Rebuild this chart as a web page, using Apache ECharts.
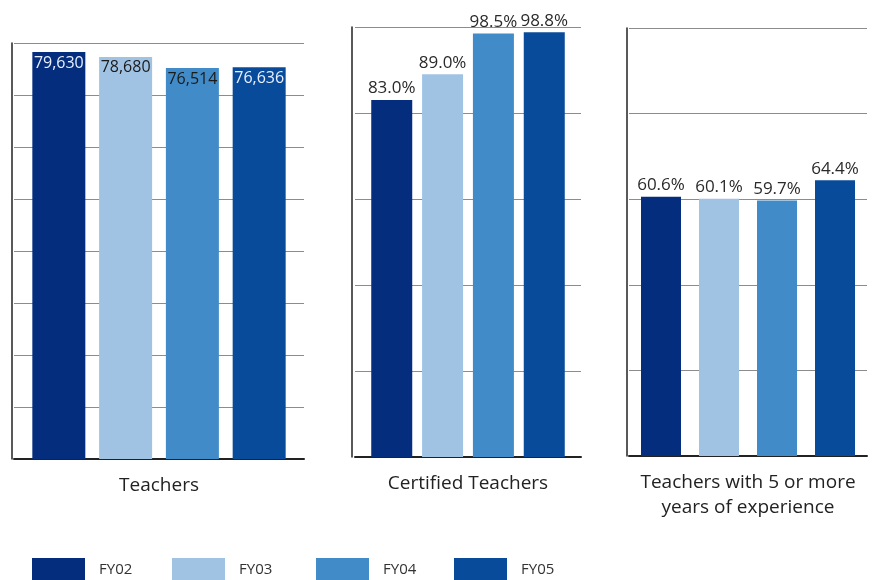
<!DOCTYPE html>
<html>
<head>
<meta charset="utf-8">
<script src="https://cdn.jsdelivr.net/npm/echarts@6/dist/echarts.min.js"></script>
<style>
  html, body { margin: 0; padding: 0; background: #fff; }
  #chart { width: 876px; height: 580px; }
</style>
</head>
<body>
<div id="chart"></div>
<script>
const years = ['FY02', 'FY03', 'FY04', 'FY05']
const panels = ['Teachers', 'Certified Teachers', 'Teachers with 5 or more\nyears of experience']
const teachers = [79630, 78680, 76514, 76636]
const certified = [83.0, 89.0, 98.5, 98.8]
const experienced = [60.6, 60.1, 59.7, 64.4]

const colors = ['#052d7d', '#a0c3e4', '#418cc8', '#084b9b']
const font = '"Open Sans", sans-serif'

const c = echarts.init(document.getElementById('chart'))

// axis line kept at the left edge via offset, plot area nudged right a bit
const grids = [
  { left: 14, right: 572, top: 43, bottom: 121 },
  { left: 355, right: 295, top: 27, bottom: 123 },
  { left: 629, right: 9, top: 28, bottom: 124 }
]
const offsets = [2, 3, 2]

const yAxes = [
  { max: 81400, interval: 10175 },
  { max: 100, interval: 20 },
  { max: 100, interval: 20 }
].map((a, i) => ({
  type: 'value', gridIndex: i, min: 0, max: a.max, interval: a.interval,
  offset: offsets[i],
  axisLine: { show: true, lineStyle: { color: '#222', width: 1.5 } },
  axisTick: { show: false },
  axisLabel: { show: false },
  splitLine: { lineStyle: { color: '#8c8c8c', width: 1 } }
}))

const xAxes = panels.map((p, i) => ({
  type: 'category', gridIndex: i, data: [p],
  axisLine: { lineStyle: { color: '#222', width: 2 } },
  axisTick: { show: false },
  axisLabel: { color: '#222', fontSize: 19, fontFamily: font, margin: 14, lineHeight: 25 }
}))

const gaps = ['26%', '24%', '45%']
const widths = [53, 41, 40]
const sets = [teachers, certified, experienced]

const series = []
sets.forEach((vals, g) => {
  years.forEach((y, k) => {
    series.push({
      name: y, type: 'bar', xAxisIndex: g, yAxisIndex: g,
      data: [vals[k]],
      barWidth: widths[g], barGap: gaps[g],
      itemStyle: { color: colors[k] },
      label: g === 0 ? {
        show: true, position: 'insideTop', distance: 3,
        fontSize: 16, fontFamily: font,
        color: (k === 0 || k === 3) ? '#e8f0ff' : '#1a1a1a',
        formatter: p => p.value.toLocaleString('en-US')
      } : {
        show: true, position: 'top', distance: 3,
        fontSize: 17, fontFamily: font, color: '#2a2a2a',
        formatter: p => p.value.toFixed(1) + '%'
      }
    })
  })
})

const legendLeft = [32, 172, 316, 454]
const legends = years.map((y, k) => ({
  data: [y], left: legendLeft[k], top: 558, padding: 0,
  itemWidth: 53, itemHeight: 24, icon: 'rect',
  textStyle: { fontSize: 15, fontFamily: font, color: '#333', padding: [0, 0, 0, 9] }
}))

c.setOption({
  animation: false,
  grid: grids,
  xAxis: xAxes,
  yAxis: yAxes,
  legend: legends,
  series: series
})
window.addEventListener('resize', () => c.resize())
</script>
</body>
</html>
